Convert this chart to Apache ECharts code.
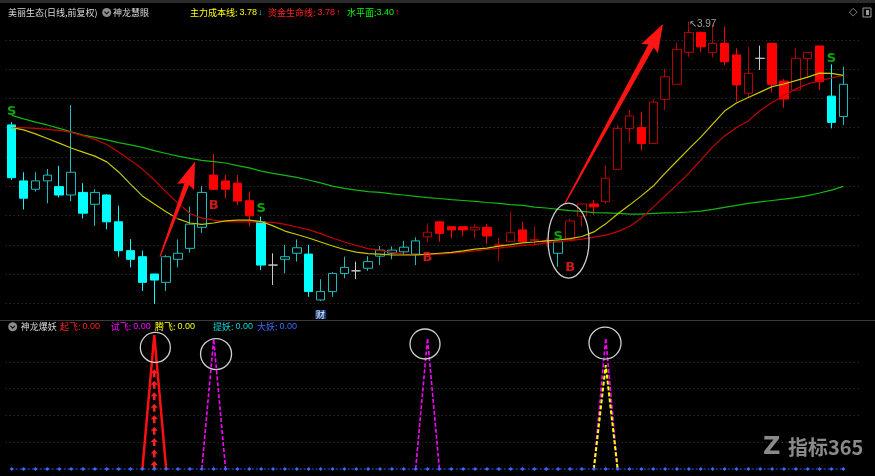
<!DOCTYPE html>
<html><head><meta charset="utf-8">
<script src="https://cdn.jsdelivr.net/npm/echarts@6/dist/echarts.min.js"></script>
<style>html,body{margin:0;padding:0;background:#000;}#c{width:875px;height:476px;}</style>
</head><body><div id="c"></div>
<script>
// ---------- data ----------
const categories = Array.from({length: 72}, (_, i) => i < 71 ? 'K' + (i + 1) : '');
// candle colour group: C = cyan, R = red, D = doji (grey)
const candleGroup = 'CCCCCCCCCCCCCCCCC' + 'RRRR' + 'C' + 'D' + 'CCCCCC' + 'D' + 'CCCCC' +
  'RRRRRRRRRRR' + 'C' + 'RRRRRRRRRRRRRRRR' + 'D' + 'RRRRR' + 'CC';
const openP = [3.611,3.417,3.388,3.417,3.397,3.368,3.377,3.336,3.368,3.275,
  3.175,3.154,3.094,3.065,3.145,3.183,3.256,3.437,3.417,3.409,
  3.348,3.275,3.125,3.145,3.166,3.163,3.004,3.033,3.096,3.105,
  3.114,3.156,3.166,3.171,3.163,3.223,3.275,3.258,3.258,3.247,
  3.256,3.193,3.206,3.247,3.210,3.205,3.166,3.214,3.295,3.337,
  3.345,3.457,3.599,3.602,3.547,3.700,3.752,3.863,3.932,3.862,
  3.894,3.854,3.721,3.842,3.894,3.763,3.732,3.842,3.885,3.711,3.640];
const closeP = [3.428,3.357,3.417,3.437,3.368,3.447,3.305,3.377,3.275,3.175,
  3.145,3.065,3.073,3.154,3.166,3.267,3.377,3.388,3.388,3.347,
  3.296,3.125,3.125,3.154,3.185,3.033,3.033,3.096,3.117,3.105,
  3.137,3.177,3.177,3.187,3.209,3.239,3.235,3.247,3.247,3.256,
  3.226,3.197,3.237,3.206,3.214,3.210,3.206,3.278,3.337,3.327,
  3.426,3.599,3.642,3.547,3.690,3.778,3.873,3.932,3.882,3.894,
  3.830,3.750,3.790,3.842,3.752,3.701,3.842,3.863,3.761,3.620,3.752];
const lowP = [3.420,3.318,3.380,3.339,3.360,3.347,3.287,3.261,3.249,3.154,
  3.117,3.035,2.990,3.035,3.117,3.168,3.237,3.385,3.357,3.333,
  3.258,3.108,3.056,3.096,3.137,3.015,3.000,3.015,3.079,3.076,
  3.105,3.125,3.145,3.160,3.125,3.204,3.206,3.218,3.226,3.218,
  3.198,3.139,3.206,3.206,3.195,3.190,3.119,3.210,3.258,3.299,
  3.337,3.457,3.549,3.522,3.547,3.663,3.752,3.847,3.865,3.845,
  3.819,3.692,3.704,3.802,3.724,3.671,3.732,3.775,3.732,3.599,3.611];
const highP = [3.621,3.447,3.447,3.458,3.469,3.680,3.409,3.388,3.370,3.331,
  3.215,3.175,3.094,3.160,3.214,3.328,3.399,3.510,3.437,3.437,
  3.380,3.293,3.166,3.195,3.214,3.195,3.076,3.100,3.154,3.137,
  3.156,3.191,3.190,3.209,3.221,3.270,3.276,3.258,3.258,3.267,
  3.267,3.219,3.310,3.275,3.258,3.220,3.210,3.287,3.340,3.351,
  3.470,3.611,3.663,3.657,3.700,3.807,3.896,3.970,3.935,3.960,
  3.952,3.877,3.882,3.886,3.894,3.770,3.877,3.863,3.885,3.821,3.813];
// 主力成本线 (yellow)
const costLine = [3.602,3.594,3.580,3.564,3.548,3.531,3.517,3.503,3.483,3.448,
  3.406,3.365,3.337,3.310,3.285,3.271,3.266,3.271,3.278,3.281,
  3.281,3.276,3.261,3.243,3.231,3.219,3.205,3.191,3.179,3.170,
  3.165,3.163,3.160,3.160,3.160,3.163,3.166,3.169,3.174,3.180,
  3.184,3.191,3.196,3.202,3.205,3.209,3.212,3.217,3.224,3.240,
  3.268,3.302,3.333,3.365,3.399,3.444,3.486,3.528,3.569,3.614,
  3.659,3.687,3.706,3.725,3.744,3.753,3.765,3.777,3.791,3.790,3.783];
// 资金生命线 (red)
const lifeLine = [3.602,3.602,3.599,3.596,3.592,3.585,3.574,3.561,3.543,3.517,
  3.489,3.458,3.420,3.378,3.340,3.304,3.288,3.281,3.276,3.275,
  3.275,3.274,3.273,3.266,3.257,3.248,3.234,3.219,3.205,3.193,
  3.182,3.176,3.169,3.163,3.160,3.162,3.163,3.166,3.170,3.174,
  3.179,3.184,3.189,3.193,3.196,3.202,3.207,3.210,3.215,3.222,
  3.229,3.241,3.259,3.288,3.326,3.365,3.403,3.444,3.489,3.535,
  3.573,3.602,3.625,3.661,3.689,3.713,3.736,3.753,3.765,3.774,3.783];
// 水平面 (green)
const levelLine = [3.644,3.632,3.621,3.611,3.599,3.587,3.576,3.568,3.559,3.550,
  3.542,3.533,3.522,3.512,3.503,3.495,3.488,3.484,3.479,3.470,
  3.462,3.451,3.443,3.436,3.429,3.420,3.410,3.399,3.391,3.385,
  3.380,3.377,3.372,3.368,3.363,3.359,3.356,3.352,3.349,3.346,
  3.342,3.339,3.335,3.332,3.326,3.323,3.318,3.314,3.311,3.307,
  3.306,3.304,3.302,3.302,3.304,3.306,3.307,3.309,3.312,3.318,
  3.325,3.332,3.339,3.344,3.349,3.354,3.359,3.366,3.375,3.385,3.398];
// signals
const sIdx = [0, 21, 46, 69];
const sPrice = [3.656, 3.321, 3.222, 3.842];
const bIdx = [17, 35, 47];
const bPrice = [3.332, 3.150, 3.115];
const lowMarkIdx = 12, lowMarkPrice = 2.99;
const highMarkIdx = 57, highMarkPrice = 3.97;
// header values
const headerVals = {cost: 3.78, life: 3.78, level: 3.40};
// lower panel 神龙爆妖 (sparse points: [index, value])
const qifeiPts = [[11, 0], [12, 10.0], [13, 0]];
const shifeiPts = [[16, 0], [17, 9.7], [18, 0], [34, 0], [35, 9.75], [36, 0], [49, 0], [50, 9.75], [51, 0]];
const tengfeiPts = [[49, 0], [50, 7.75], [51, 0]];
const qifeiArrowPts = [[12, 7.2]];
const dayao = [0,0,0,0,0,0,0,0,0,0, 0,0,0,0,0,0,0,0,0,0, 0,0,0,0,0,0,0,0,0,0,
  0,0,0,0,0,0,0,0,0,0, 0,0,0,0,0,0,0,0,0,0, 0,0,0,0,0,0,0,0,0,0, 0,0,0,0,0,0,0,0,0,0, 0];
// annotations in data coordinates
const arrowDefs = [
  {from: [12.48, 3.154], to: [15.43, 3.484], wTail: 1.2, wShaft: 5, headLen: 24, headHalf: 9},
  {from: [46.57, 3.339], to: [54.82, 3.961], wTail: 1.2, wShaft: 6, headLen: 25, headHalf: 9.5}
];
const ellipseDef = {x: 46.87, y: 3.210, rx: 20.5, ry: 37.5};
const circleDefs = [{x: 12.09, v: 9.07, r: 15}, {x: 17.2, v: 8.58, r: 15.5}, {x: 34.79, v: 9.33, r: 15}, {x: 49.94, v: 9.4, r: 16}];

// ---------- build ----------
const N = 71;
function groupData(g) {
  const out = [];
  for (let i = 0; i < N; i++) out.push(candleGroup[i] === g ? [openP[i], closeP[i], lowP[i], highP[i]] : '-');
  return out;
}
function dense(pts) {
  const a = new Array(N).fill(null);
  pts.forEach(p => { a[p[0]] = p[1]; });
  return a;
}
const CJK = '"Noto Sans CJK SC", "Noto Sans", sans-serif';
const gridL = 5.76, gridW = 855.4;

const option = {
  backgroundColor: '#000',
  animation: false,
  grid: [
    {left: gridL, top: 12, width: gridW, height: 291.3},
    {left: gridL, top: 335, width: gridW, height: 134}
  ],
  xAxis: [
    {type: 'category', gridIndex: 0, data: categories, boundaryGap: true, axisLine: {show: false}, axisTick: {show: false}, axisLabel: {show: false}, splitLine: {show: false}},
    {type: 'category', gridIndex: 1, data: categories, boundaryGap: true, axisLine: {show: false}, axisTick: {show: false}, axisLabel: {show: false}, splitLine: {show: false}}
  ],
  yAxis: [
    {type: 'value', gridIndex: 0, min: 2.9924, max: 4.0028, interval: 0.10149, axisLine: {show: false}, axisTick: {show: false}, axisLabel: {show: false},
      splitLine: {show: true, showMaxLine: false, lineStyle: {color: '#3a3a3a', type: [1, 3], width: 1}}},
    {type: 'value', gridIndex: 1, min: 0, max: 10, interval: 2, axisLine: {show: false}, axisTick: {show: false}, axisLabel: {show: false},
      splitLine: {show: true, showMaxLine: false, showMinLine: false, lineStyle: {color: '#3a3a3a', type: [1, 3], width: 1}}}
  ],
  series: [
    {name: 'cyan', type: 'candlestick', xAxisIndex: 0, yAxisIndex: 0, barWidth: 9, clip: false, silent: true,
      itemStyle: {color: '#000', color0: '#00ffff', borderColor: '#1cbcbc', borderColor0: '#00ffff', borderWidth: 1},
      data: groupData('C')},
    {name: 'red', type: 'candlestick', xAxisIndex: 0, yAxisIndex: 0, barWidth: 9, clip: false, silent: true,
      itemStyle: {color: '#000', color0: '#ff0000', borderColor: '#b80000', borderColor0: '#ff0000', borderWidth: 1},
      data: groupData('R')},
    {name: 'doji', type: 'candlestick', xAxisIndex: 0, yAxisIndex: 0, barWidth: 9, clip: false, silent: true,
      itemStyle: {color: '#c8c8c8', color0: '#c8c8c8', borderColor: '#c8c8c8', borderColor0: '#c8c8c8', borderWidth: 1},
      data: groupData('D')},
    {name: '水平面', type: 'line', xAxisIndex: 0, yAxisIndex: 0, data: levelLine, showSymbol: false, silent: true, clip: false,
      lineStyle: {color: '#12b812', width: 1.2}, z: 4},
    {name: '资金生命线', type: 'line', xAxisIndex: 0, yAxisIndex: 0, data: lifeLine, showSymbol: false, silent: true, clip: false,
      lineStyle: {color: '#c80000', width: 1.2}, z: 4},
    {name: '主力成本线', type: 'line', xAxisIndex: 0, yAxisIndex: 0, data: costLine, showSymbol: false, silent: true, clip: false,
      lineStyle: {color: '#c8c800', width: 1.2}, z: 4},
    {name: 'S', type: 'scatter', xAxisIndex: 0, yAxisIndex: 0, symbolSize: 0, silent: true, z: 6,
      data: sIdx.map((x, k) => [x, sPrice[k]]),
      label: {show: true, position: 'inside', formatter: 'S', color: '#10d010', fontSize: 13, fontWeight: 'bold', fontFamily: 'DejaVu Sans'}},
    {name: 'B', type: 'scatter', xAxisIndex: 0, yAxisIndex: 0, symbolSize: 0, silent: true, z: 6,
      data: bIdx.map((x, k) => [x, bPrice[k]]),
      label: {show: true, position: 'inside', formatter: 'B', color: '#ff2020', fontSize: 13, fontWeight: 'bold', fontFamily: 'DejaVu Sans'}},
    {name: 'marks', type: 'scatter', xAxisIndex: 0, yAxisIndex: 0, symbolSize: 0, silent: true, z: 6,
      data: [
        {value: [lowMarkIdx, lowMarkPrice], label: {formatter: '←' + lowMarkPrice.toFixed(2), offset: [0, 3]}},
        {value: [highMarkIdx, highMarkPrice], label: {formatter: '↖' + highMarkPrice.toFixed(2), offset: [0, 3]}}
      ],
      label: {show: true, position: 'right', distance: 0, color: '#c8c8c8', fontSize: 10, fontFamily: 'Liberation Sans'}},
    // lower panel
    {name: '起飞箭', type: 'pictorialBar', xAxisIndex: 1, yAxisIndex: 1, silent: true, z: 3,
      data: dense(qifeiArrowPts).map(v => v == null ? '-' : v),
      symbol: 'path://M5 0 L10 5 L6.8 5 L6.8 10 L3.2 10 L3.2 5 L0 5 Z', symbolRepeat: true, symbolSize: [7, 8], symbolMargin: 2,
      symbolPosition: 'start', itemStyle: {color: '#ff2020'}},
    {name: '起飞', type: 'line', xAxisIndex: 1, yAxisIndex: 1, data: dense(qifeiPts), showSymbol: false, silent: true, clip: false,
      lineStyle: {color: '#ff1010', width: 2.5}, z: 4},
    {name: '试飞', type: 'line', xAxisIndex: 1, yAxisIndex: 1, data: dense(shifeiPts), showSymbol: false, silent: true, clip: false,
      lineStyle: {color: '#ff00ff', width: 1.6, type: [4, 2]}, z: 4},
    {name: '腾飞', type: 'line', xAxisIndex: 1, yAxisIndex: 1, data: dense(tengfeiPts), showSymbol: false, silent: true, clip: false,
      lineStyle: {color: '#ffff00', width: 2, type: [4, 2]}, z: 5},
    {name: '大妖', type: 'line', xAxisIndex: 1, yAxisIndex: 1, data: dayao, showSymbol: true, symbol: 'diamond', symbolSize: 4, silent: true, clip: false,
      itemStyle: {color: '#3b6cff'}, lineStyle: {color: '#2f5cf0', width: 1, type: [2, 2]}, z: 6}
  ]
};

const chart = echarts.init(document.getElementById('c'), null, {renderer: 'canvas'});
chart.setOption(option);

// ---------- annotations positioned via the axes ----------
function gx(g, idx) {
  const a = chart.convertToPixel({xAxisIndex: g}, 0);
  const b = chart.convertToPixel({xAxisIndex: g}, 1);
  return a + (b - a) * idx;
}
function gy(g, v) { return chart.convertToPixel({yAxisIndex: g}, v); }

function arrowPoly(d) {
  const t = [gx(0, d.from[0]), gy(0, d.from[1])];
  const h = [gx(0, d.to[0]), gy(0, d.to[1])];
  const dx = h[0] - t[0], dy = h[1] - t[1];
  const L = Math.hypot(dx, dy);
  const ux = dx / L, uy = dy / L, nx = -uy, ny = ux;
  const b = [h[0] - ux * d.headLen, h[1] - uy * d.headLen];
  const c = [b[0] - ux * 3, b[1] - uy * 3];
  return [
    [t[0] + nx * d.wTail / 2, t[1] + ny * d.wTail / 2],
    [b[0] + nx * d.wShaft / 2, b[1] + ny * d.wShaft / 2],
    [c[0] + nx * d.headHalf, c[1] + ny * d.headHalf],
    h,
    [c[0] - nx * d.headHalf, c[1] - ny * d.headHalf],
    [b[0] - nx * d.wShaft / 2, b[1] - ny * d.wShaft / 2],
    [t[0] - nx * d.wTail / 2, t[1] - ny * d.wTail / 2]
  ];
}
function txt(x, y, text, fill, font, align) {
  return {type: 'text', x: x, y: y, silent: true, z: 100,
    style: {text: text, fill: fill, font: font, align: align || 'left', verticalAlign: 'middle', textAlign: align || 'left', textVerticalAlign: 'middle'}};
}
function icon(x, y) {
  return {type: 'group', x: x, y: y, silent: true, z: 100, children: [
    {type: 'circle', shape: {cx: 0, cy: 0, r: 4.5}, style: {fill: '#8c8c8c'}},
    {type: 'polyline', shape: {points: [[-2.2, -0.8], [0, 1.4], [2.2, -0.8]]}, style: {stroke: '#111', lineWidth: 1.2, fill: null}}
  ]};
}
const F9 = '9px ' + CJK;
const FN = '9px "Liberation Sans", sans-serif';

const g = [];
g.push({type: 'rect', shape: {x: 0, y: 0, width: 875, height: 3}, style: {fill: '#2c2c2c'}, silent: true});
g.push({type: 'line', shape: {x1: 0, y1: 320.5, x2: 875, y2: 320.5}, style: {stroke: '#3a3a3a', lineWidth: 1}, silent: true});
// header main
g.push(txt(8, 12.5, '美丽生态(日线,前复权)', '#dcdcdc', F9));
g.push(icon(106.7, 12.5));
g.push(txt(113, 12.5, '神龙慧眼', '#dcdcdc', F9));
g.push(txt(190, 12.5, '主力成本线:', '#ffff00', F9));
g.push(txt(257, 12.5, headerVals.cost.toFixed(2), '#ffff00', FN, 'right'));
g.push(txt(258, 12.5, '↓', '#00e0ff', FN));
g.push(txt(268, 12.5, '资金生命线:', '#ff2020', F9));
g.push(txt(335, 12.5, headerVals.life.toFixed(2), '#ff2020', FN, 'right'));
g.push(txt(336, 12.5, '↑', '#ff2020', FN));
g.push(txt(347, 12.5, '水平面:', '#00ff00', F9));
g.push(txt(394, 12.5, headerVals.level.toFixed(2), '#00ff00', FN, 'right'));
g.push(txt(395, 12.5, '↑', '#ff2020', FN));
g.push(txt(849, 12, '◇', '#9a9a9a', '11px "DejaVu Sans"'));
g.push({type: 'rect', shape: {x: 863, y: 8, width: 8, height: 9}, style: {fill: null, stroke: '#9a9a9a', lineWidth: 1}, silent: true});
g.push({type: 'rect', shape: {x: 866, y: 10, width: 3, height: 5}, style: {fill: '#9a9a9a'}, silent: true});
// header lower
g.push(icon(12.7, 326.7));
g.push(txt(20.7, 326.7, '神龙爆妖', '#dcdcdc', F9));
[['起飞', 60, '#ff2020'], ['试飞', 110.7, '#ff00ff'], ['腾飞', 155, '#ffff00'], ['提妖', 213, '#00d8d8'], ['大妖', 257, '#3b6cff']].forEach(it => {
  g.push(txt(it[1], 326.7, it[0] + ':', it[2], F9));
  g.push(txt(it[1] + 40, 326.7, '0.00', it[2], FN, 'right'));
});
// arrows
arrowDefs.forEach(d => g.push({type: 'polygon', shape: {points: arrowPoly(d)}, style: {fill: '#ff1414', shadowBlur: 3, shadowColor: 'rgba(0,0,0,0.8)', shadowOffsetX: 1, shadowOffsetY: 1}, silent: true, z: 50}));
// ellipse
g.push({type: 'ellipse', shape: {cx: gx(0, ellipseDef.x), cy: gy(0, ellipseDef.y), rx: ellipseDef.rx, ry: ellipseDef.ry},
  style: {fill: null, stroke: '#cfcfcf', lineWidth: 1.3}, silent: true, z: 50});
// circles lower panel
circleDefs.forEach(c => g.push({type: 'circle', shape: {cx: gx(1, c.x), cy: gy(1, c.v), r: c.r},
  style: {fill: null, stroke: '#d0d0d0', lineWidth: 1.3}, silent: true, z: 50}));
// 财 badge under candle 26
g.push({type: 'text', x: gx(0, 26), y: 314.5, silent: true, z: 60,
  style: {text: '财', fill: '#e8f0ff', font: '9px ' + CJK, align: 'center', verticalAlign: 'middle', textAlign: 'center', textVerticalAlign: 'middle', backgroundColor: '#1d3f7a', padding: [0, 1]}});
// watermark
g.push(txt(763, 447.7, 'Z', '#8a8a8a', 'bold 24px "DejaVu Sans"'));
g.push(txt(788, 447.7, '指标365', '#8a8a8a', 'bold 20px ' + CJK));

chart.setOption({graphic: g});
</script></body></html>
